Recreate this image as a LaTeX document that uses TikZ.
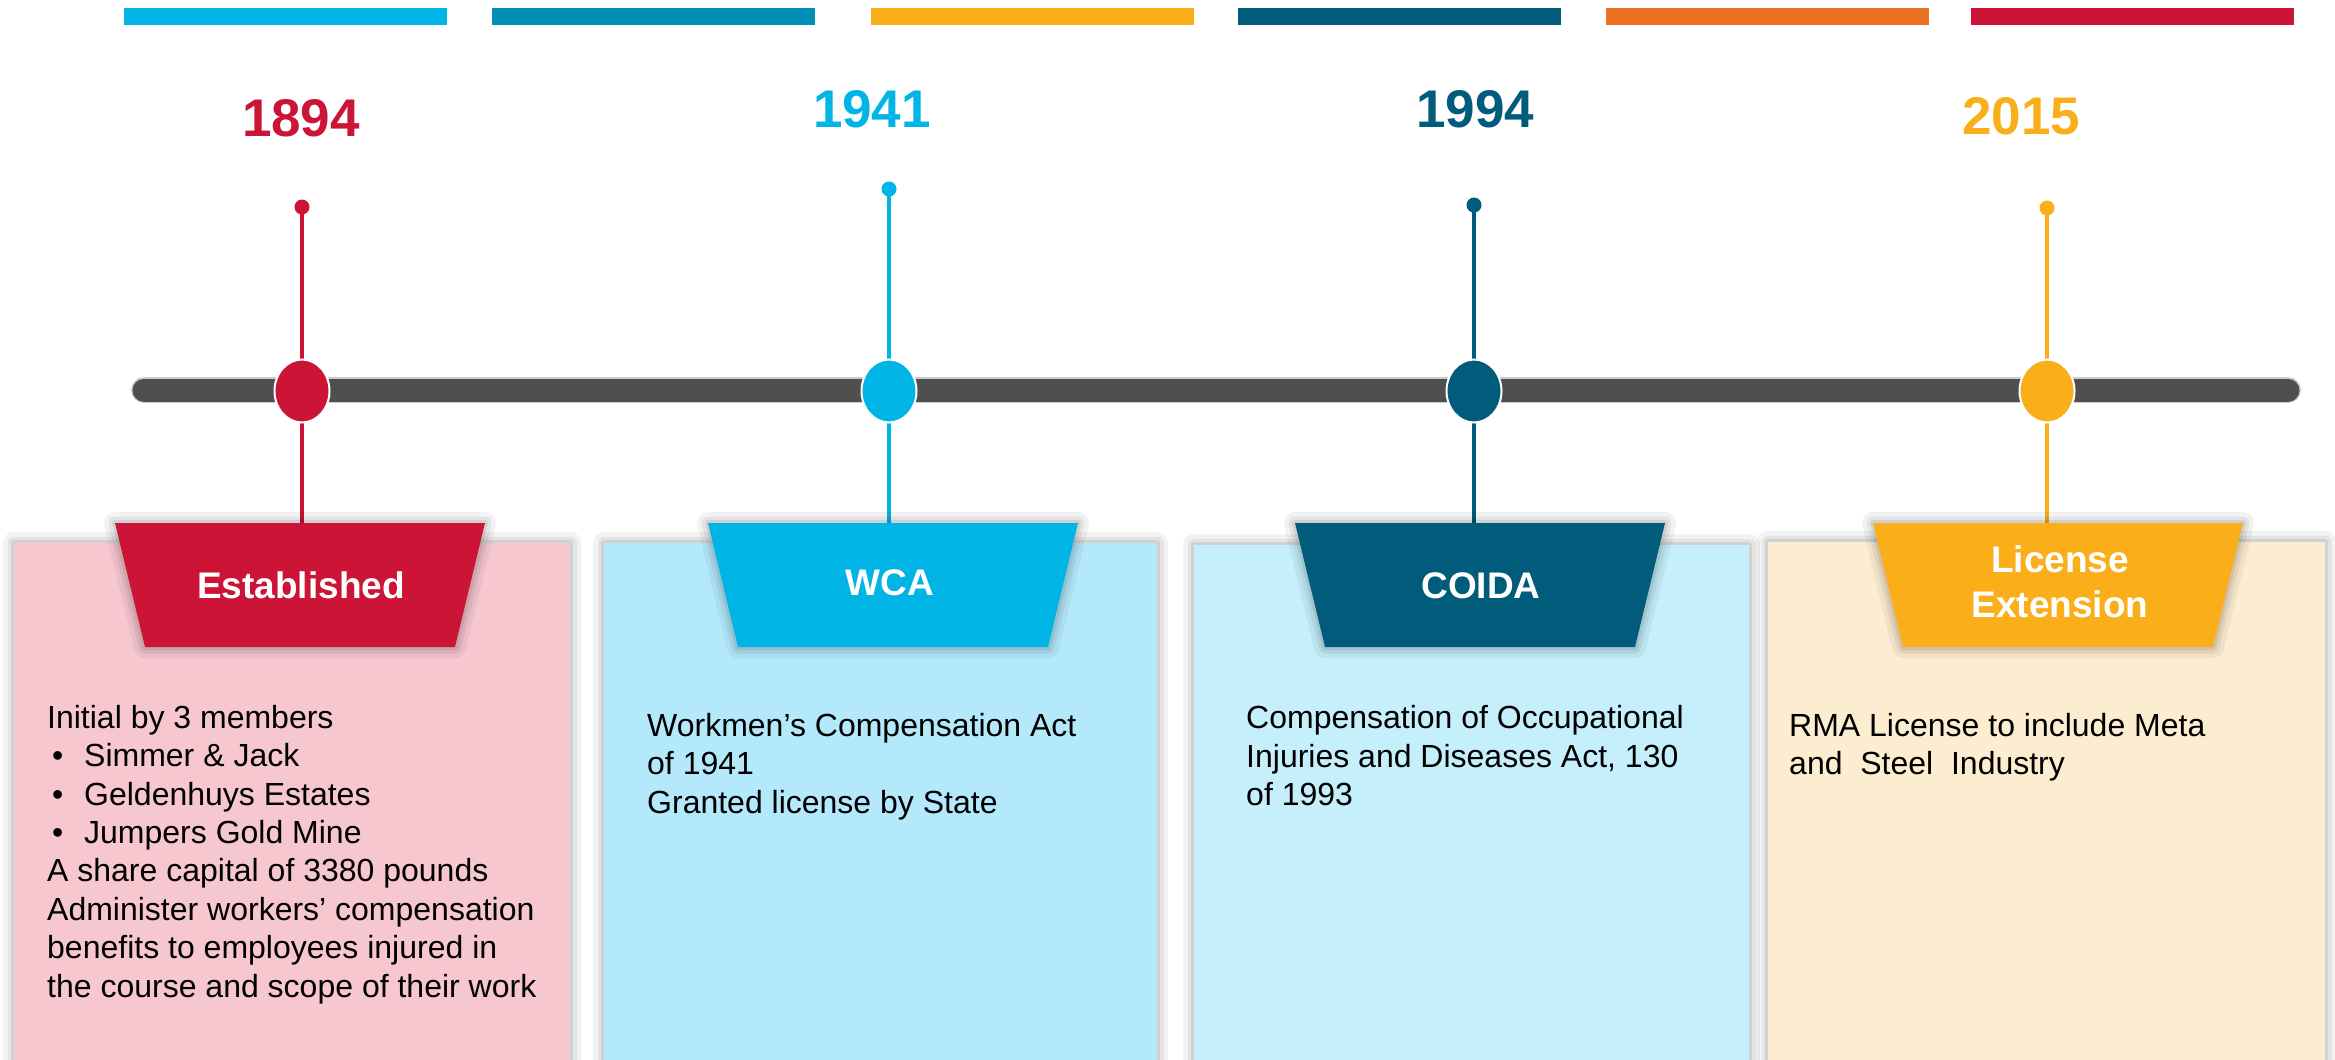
\documentclass[tikz,border=0pt]{standalone}
\usepackage{fontspec}
\setmainfont{Liberation Sans}
\usetikzlibrary{shapes.geometric}

\definecolor{crimson}{RGB}{204,20,54}
\definecolor{sky}{RGB}{0,181,230}
\definecolor{midteal}{RGB}{0,143,180}
\definecolor{amber}{RGB}{249,174,26}
\definecolor{deepteal}{RGB}{0,92,122}
\definecolor{tangerine}{RGB}{238,112,35}
\definecolor{rail}{RGB}{79,79,79}
\definecolor{railedge}{RGB}{205,205,205}
\definecolor{pinkcard}{RGB}{247,199,208}
\definecolor{bluecard}{RGB}{180,233,252}
\definecolor{palecard}{RGB}{198,239,252}
\definecolor{creamcard}{RGB}{253,237,208}

% bullet with its hanging indent
\newcommand\itemdot{\hbox to 37pt{\hspace{5pt}•\hfil}}

\begin{document}
\begin{tikzpicture}[x=1pt,y=-1pt,
  yearlabel/.style={font=\fontsize{53}{60}\selectfont\bfseries, inner sep=0},
  taglabel/.style={font=\fontsize{37}{45}\selectfont\bfseries, text=white, align=center, inner sep=0},
  bodytext/.style={font=\fontsize{32}{38.4}\selectfont, align=left, anchor=north west, inner sep=0, text=black},
  pin/.style={circle, inner sep=0, minimum size=15},
  knob/.style={ellipse, inner sep=0, minimum width=55, minimum height=63, draw=white, line width=2},
  stem/.style={line width=4},
  softshadow/.style={
    preaction={draw=black, opacity=0.05, line width=22, line join=round},
    preaction={draw=black, opacity=0.06, line width=13, line join=round},
    preaction={draw=black, opacity=0.08, line width=6, line join=round}},
]
\useasboundingbox (0,0) rectangle (2335,1060);
\clip (0,0) rectangle (2335,1060);
\fill[white] (0,0) rectangle (2335,1060);

% colour bands along the top
\foreach \x/\c in {124/sky,492/midteal,871/amber,1238/deepteal,1606/tangerine,1971/crimson}
  \fill[\c] (\x,8) rectangle ++(323,17);

% content cards
\fill[pinkcard, softshadow] (14,543) rectangle (570,1090);
\fill[bluecard, softshadow] (604,543) rectangle (1157,1090);
\fill[palecard, softshadow] (1194,545) rectangle (1749,1090);
\fill[creamcard, softshadow] (1768,542) rectangle (2325,1090);

% the time rail
\draw[railedge, line width=26, line cap=round] (144,390) -- (2288,390);
\draw[rail, line width=23, line cap=round] (144,390) -- (2288,390);

% pins, stems, knobs and tags for each event
\foreach \i/\sx/\dy/\c in {1/302/207/crimson, 2/889/189/sky, 3/1474/205/deepteal, 4/2047/208/amber}{
  \node[pin, fill=\c] (d\i) at (\sx,\dy) {};
  \coordinate (s\i) at (\sx,524);
  \draw[stem, \c] (d\i.center) -- (s\i);
  \node[knob, fill=\c] (e\i) at (\sx,391) {};
}
\foreach \tx/\c in {300/crimson, 893/sky, 1480/deepteal, 2058/amber}
  \fill[\c, softshadow] ({\tx-185},523) -- ({\tx+185},523) -- ({\tx+155},647) -- ({\tx-155},647) -- cycle;

% tag captions
\node[taglabel] (g1) at (301,585.5) {Established};
\node[taglabel] (g2) at (890,583) {WCA};
\node[taglabel] (g3) at (1481,586) {COIDA};
\node[taglabel] (g4) at (2060,582) {License\\Extension};

% years
\node[yearlabel, text=crimson] (y1) at (301,118) {1894};
\node[yearlabel, text=sky] (y2) at (872,109) {1941};
\node[yearlabel, text=deepteal] (y3) at (1475,109) {1994};
\node[yearlabel, text=amber] (y4) at (2021,116) {2015};

% card texts
\node[bodytext] (b1) at (47,705) {Initial by 3 members\\
  \itemdot Simmer \& Jack\\
  \itemdot Geldenhuys Estates\\
  \itemdot Jumpers Gold Mine\\
  A share capital of 3380 pounds\\
  Administer workers’ compensation\\
  benefits to employees injured in\\
  the course and scope of their work};
\node[bodytext] (b2) at (647,713) {Workmen’s Compensation Act\\
  of 1941\\
  Granted license by State};
\node[bodytext] (b3) at (1246,705.5) {Compensation of Occupational\\
  Injuries and Diseases Act, 130\\
  of 1993};
\node[bodytext] (b4) at (1789,713) {RMA License to include Meta\\
  and\ \ Steel\ \ Industry};
\end{tikzpicture}
\end{document}
